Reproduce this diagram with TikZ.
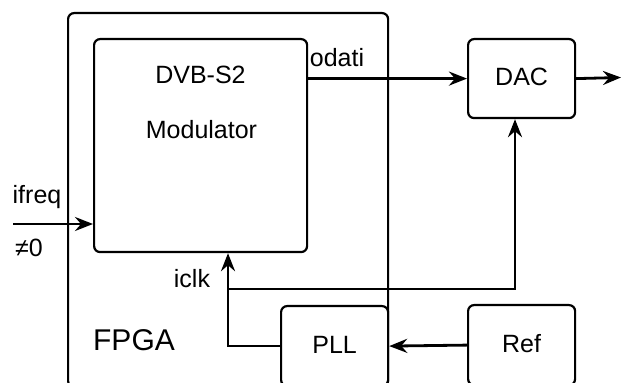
\documentclass[tikz,border=0pt]{standalone}
\usepackage{fontspec}
\setmainfont{Liberation Sans}
\usetikzlibrary{arrows.meta}
\begin{document}
\begin{tikzpicture}[x=0.5pt,y=-0.5pt,
  box/.style={draw,line width=1.1pt,rounded corners=3pt,minimum width=#1,inner sep=0pt,anchor=north west},
  lbl/.style={inner sep=0pt,font=\fontsize{12.5}{14}\selectfont,text height=0.72em,text depth=0pt},
  conn/.style={line width=1.4pt},
  arr/.style={conn,-{Stealth[length=9pt,width=7pt,inset=3pt]}}]
\useasboundingbox (0,0) rectangle (621,383);
\begin{scope}
\clip (0,0) rectangle (621,383);
\node[box=160pt,minimum height=187pt] (fpga) at (67,12) {};
\node[box=106.5pt,minimum height=106.5pt] (mod) at (93,38) {};
\node[box=53.5pt,minimum height=39.5pt] (dac) at (467,38) {};
\node[box=53.5pt,minimum height=40pt] (pll) at (280,305) {};
\node[box=53.5pt,minimum height=40pt] (ref) at (467,304) {};
\end{scope}
\node[lbl] (dvb) at (200.5,76.5) {DVB-S2};
\node[lbl] (modt) at (201.5,131.5) {Modulator};
\node[lbl] (dact) at (dac.center) {DAC};
\node[lbl] (pllt) at (pll.center) {PLL};
\node[lbl] (reft) at (ref.center) {Ref};
\node[lbl,font=\fontsize{15}{17}\selectfont] (fpgat) at (134,343) {FPGA};
\node[lbl] (ifreq) at (37,196) {ifreq};
\node[lbl] (ne) at (29,249) {≠0};
\node[lbl] (odati) at (337,59) {odati};
\node[lbl] (iclk) at (192,280) {iclk};
\coordinate (fin) at (13,224);
\coordinate (out) at (621,77.5);
\coordinate (j1) at (228,289);
\coordinate (j2) at (515,289);
\draw[arr] (fin) -- (fin -| mod.west);
\draw[arr] (mod.east |- dac.west) -- (dac.west);
\draw[arr] (dac.east) -- (out);
\draw[arr] (pll.west) -| (j1) -- (j1 |- mod.south);
\draw[arr] (j1) -- (j2) -- (j2 |- dac.south);
\draw[arr] (ref.west) -- (pll.east);
\end{tikzpicture}
\end{document}
